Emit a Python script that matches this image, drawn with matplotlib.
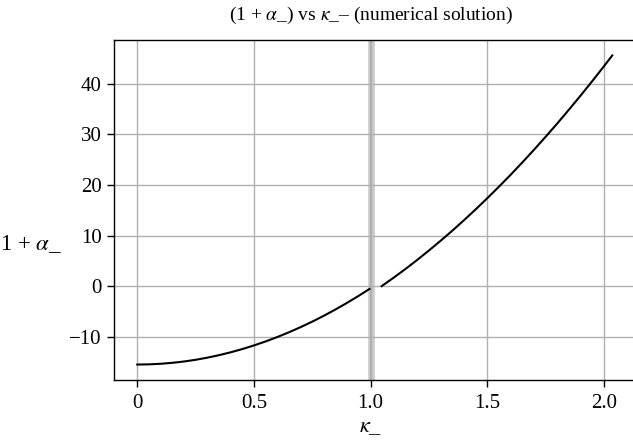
import numpy as np
import matplotlib
matplotlib.use('Agg')
import matplotlib.pyplot as plt

# values
kappa_left = [0.0, 0.05, 0.1, 0.15, 0.2, 0.25, 0.3, 0.35, 0.4, 0.45, 0.5,
              0.55, 0.6, 0.65, 0.7, 0.75, 0.8, 0.85, 0.9, 0.95, 0.995]
alpha_left = [-15.5, -15.46, -15.35, -15.16, -14.9, -14.56, -14.14, -13.65, -13.08, -12.44, -11.72,
              -10.93, -10.06, -9.12, -8.1, -7.01, -5.84, -4.59, -3.27, -1.87, -0.55]

kappa_right = [1.047, 1.1, 1.15, 1.2, 1.25, 1.3, 1.35, 1.4, 1.45, 1.5, 1.55,
               1.6, 1.65, 1.7, 1.75, 1.8, 1.85, 1.9, 1.95, 2.0, 2.035]
alpha_right = [0.0, 1.73, 3.43, 5.21, 7.07, 8.99, 10.98, 13.05, 15.19, 17.41, 19.69,
               22.04, 24.48, 26.98, 29.56, 32.2, 34.93, 37.72, 40.58, 43.52, 45.62]

gap_kappa = 1.0
xticks = [0, 0.5, 1.0, 1.5, 2.0]
xticklabels = ['0', '0.5', '1.0', '1.5', '2.0']
yticks = [-10, 0, 10, 20, 30, 40]

plt.rcParams['font.family'] = ['Liberation Serif', 'DejaVu Serif']
plt.rcParams['mathtext.fontset'] = 'stix'
plt.rcParams['axes.unicode_minus'] = True

fig = plt.figure(figsize=(6.33, 4.43), dpi=100)
ax = fig.add_axes([113.5/633, 1-380/443, 522.5/633, 340/443])

ax.grid(True, color='#b0b0b0', lw=1.0, zorder=0)
ax.axvline(gap_kappa, color='#cccccc', lw=4.8, zorder=0.5)
ax.axvline(gap_kappa, color='#a8a8a8', lw=1.2, zorder=0.6)

ax.plot(kappa_left, alpha_left, color='black', lw=1.5, zorder=3)
ax.plot(kappa_right, alpha_right, color='black', lw=1.5, zorder=3)

ax.set_xticks(xticks)
ax.set_xticklabels(xticklabels)
ax.set_yticks(yticks)
ax.tick_params(labelsize=15, length=5, width=1, color='black')
ax.tick_params(axis='x', pad=5)
for s in ax.spines.values():
    s.set_color('black')
    s.set_linewidth(1.0)

ax.set_xlabel(r'$\kappa$_', fontsize=16)
ax.xaxis.set_label_coords((371-113.5)/522.5, -(428-380)/340)
ax.xaxis.label.set_va('center')
ax.set_ylabel(r'1 + $\alpha$_', fontsize=16.5, rotation=0, ha='right', va='center')
ax.yaxis.set_label_coords((62-113.5)/522.5, (380-244)/340)

fig.text(371/633, 1-15/443, r'(1 + $\alpha$_) vs $\kappa$_– (numerical solution)',
         ha='center', va='center', fontsize=14)

fig.savefig('out.png', dpi=100)
